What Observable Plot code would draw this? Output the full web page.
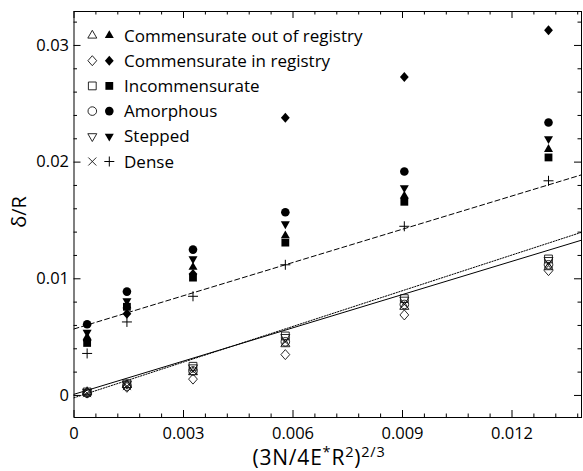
<!DOCTYPE html>
<html><head><meta charset="utf-8">
<script src="https://cdn.jsdelivr.net/npm/d3@7"></script>
<script src="https://cdn.jsdelivr.net/npm/@observablehq/plot@0.6"></script>
<style>
body{margin:0;background:#fff;}
#chart{width:583px;height:471px;}
svg{overflow:visible}
</style></head><body><div id="chart"></div>
<script>
// ---- data ----
const loads = [0.00036, 0.00145, 0.00326, 0.00579, 0.00905, 0.0130];
const seriesNames = ["Commensurate out of registry", "Commensurate in registry", "Incommensurate", "Amorphous", "Stepped", "Dense"];
// open markers
const openOutReg  = [0.0003, 0.0009, 0.0020, 0.0044, 0.0076, 0.0110];
const openInReg   = [0.0002, 0.0007, 0.0014, 0.0035, 0.0069, 0.0107];
const openIncomm  = [0.0003, 0.0010, 0.0025, 0.0051, 0.0083, 0.0117];
const openAmorph  = [0.0002, 0.0008, 0.0021, 0.0046, 0.0078, 0.0112];
const openStepped = [0.0003, 0.0010, 0.0024, 0.0050, 0.0082, 0.0116];
const openDense   = [0.0002, 0.0008, 0.0021, 0.0046, 0.0078, 0.0113];
// filled markers
const fillOutReg  = [0.0050, 0.0077, 0.0110, 0.0137, 0.0171, 0.0211];
const fillInReg   = [0.0047, 0.0070, 0.0104, 0.0238, 0.0273, 0.0313];
const fillIncomm  = [0.0045, 0.0076, 0.0101, 0.0131, 0.0166, 0.0204];
const fillAmorph  = [0.0061, 0.0089, 0.0125, 0.0157, 0.0192, 0.0234];
const fillStepped = [0.0054, 0.0081, 0.0117, 0.0147, 0.0178, 0.0220];
const fillDense   = [0.0036, 0.0063, 0.0085, 0.0112, 0.0145, 0.0184];
// fitted lines
const fitStyles = ["solid", "dotted", "dashed"];
const fitIntercepts = [0.0001, -0.0002, 0.0057];
const fitSlopes = [0.95, 1.02, 0.95];
// ticks
const xMajor = [0, 0.003, 0.006, 0.009, 0.012];
const xMajorLabels = ["0", "0.003", "0.006", "0.009", "0.012"];
const xMinor = [0.0006,0.0012,0.0018,0.0024,0.0036,0.0042,0.0048,0.0054,0.0066,0.0072,0.0078,0.0084,0.0096,0.0102,0.0108,0.0114,0.0126,0.0132,0.0138];
const yMajor = [0, 0.01, 0.02, 0.03];
const yMajorLabels = ["0", "0.01", "0.02", "0.03"];
const yMinor = [0.002,0.004,0.006,0.008,0.012,0.014,0.016,0.018,0.022,0.024,0.026,0.028,0.032];
const xDomain = [0, 0.013904];
const yDomain = [-0.00189, 0.03291];

// ---- marker glyphs ----
const triUp = {draw(c){c.moveTo(0,-5.2);c.lineTo(4.5,2.6);c.lineTo(-4.5,2.6);c.closePath();}};
const triDown = {draw(c){c.moveTo(0,5.2);c.lineTo(4.5,-2.6);c.lineTo(-4.5,-2.6);c.closePath();}};
const diamond = {draw(c){c.moveTo(0,-5);c.lineTo(4.4,0);c.lineTo(0,5);c.lineTo(-4.4,0);c.closePath();}};
const square = {draw(c){c.moveTo(-3.9,-3.9);c.lineTo(3.9,-3.9);c.lineTo(3.9,3.9);c.lineTo(-3.9,3.9);c.closePath();}};
const circle = {draw(c){c.moveTo(4.3,0);c.arc(0,0,4.3,0,2*Math.PI);c.closePath();}};
const times = {draw(c){c.moveTo(-4,-4);c.lineTo(4,4);c.moveTo(4,-4);c.lineTo(-4,4);}};
const plus = {draw(c){c.moveTo(-5,0);c.lineTo(5,0);c.moveTo(0,-5);c.lineTo(0,5);}};

const openSets = [openOutReg, openInReg, openIncomm, openAmorph, openStepped, openDense];
const fillSets = [fillOutReg, fillInReg, fillIncomm, fillAmorph, fillStepped, fillDense];
const openSyms = [triUp, diamond, square, circle, triDown, times];
const fillSyms = [triUp, diamond, square, circle, triDown, plus];
const fillIsStroke = [false, false, false, false, false, true];

const W = 583, H = 471, mL = 73.5, mR = 2, mT = 11, mB = 54;
const fw = W - mL - mR, fh = H - mT - mB;

const toPts = arr => arr.map((v, j) => ({x: loads[j], y: v}));

const marks = [];
fitStyles.forEach((s, i) => {
  const pts = xDomain.map(x => ({x, y: fitIntercepts[i] + fitSlopes[i] * x}));
  marks.push(Plot.line(pts, {x: "x", y: "y", stroke: "black", strokeWidth: 1,
    strokeDasharray: s === "dashed" ? "5,3" : s === "dotted" ? "1.3,1.5" : null}));
});
openSets.forEach((arr, i) => {
  marks.push(Plot.dot(toPts(arr), {x: "x", y: "y", symbol: openSyms[i], fill: "none", stroke: "#111", strokeWidth: 0.9}));
});
fillSets.forEach((arr, i) => {
  marks.push(Plot.dot(toPts(arr), {x: "x", y: "y", symbol: fillSyms[i],
    fill: fillIsStroke[i] ? "none" : "black", stroke: fillIsStroke[i] ? "black" : "none", strokeWidth: 1}));
});
marks.push(Plot.ruleX(xMajor, {x: d => d, insetTop: fh - 7, stroke: "black"}));
marks.push(Plot.ruleX(xMinor, {x: d => d, insetTop: fh - 3.5, stroke: "black"}));
marks.push(Plot.ruleX(xMajor, {x: d => d, insetBottom: fh - 7, stroke: "black"}));
marks.push(Plot.ruleX(xMinor, {x: d => d, insetBottom: fh - 3.5, stroke: "black"}));
marks.push(Plot.ruleY(yMajor, {y: d => d, insetRight: fw - 7, stroke: "black"}));
marks.push(Plot.ruleY(yMinor, {y: d => d, insetRight: fw - 3.5, stroke: "black"}));
marks.push(Plot.ruleY(yMajor, {y: d => d, insetLeft: fw - 7, stroke: "black"}));
marks.push(Plot.ruleY(yMinor, {y: d => d, insetLeft: fw - 3.5, stroke: "black"}));
marks.push(Plot.frame({stroke: "black", strokeWidth: 1}));
marks.push(Plot.axisX(xMajor, {tickSize: 0, tickPadding: 10, fontSize: 16.5, fill: "black",
  tickFormat: d => xMajorLabels[xMajor.indexOf(d)], label: null}));
marks.push(Plot.axisY(yMajor, {tickSize: 0, tickPadding: 5, fontSize: 16.5, fill: "black",
  tickFormat: d => yMajorLabels[yMajor.indexOf(d)], label: null}));

const chart = Plot.plot({
  width: W, height: H, marginLeft: mL, marginRight: mR, marginTop: mT, marginBottom: mB,
  x: {domain: xDomain}, y: {domain: yDomain},
  style: {fontFamily: "Open Sans", background: "white", color: "black"},
  marks
});
document.getElementById("chart").appendChild(chart);

const svg = d3.select(chart);
const lg = svg.append("g").attr("font-family", "Open Sans").attr("font-size", 17).attr("text-anchor", "start");
seriesNames.forEach((name, i) => {
  const y = 35.5 + i * 25.2;
  lg.append("path").attr("d", d3.symbol(openSyms[i])()).attr("transform", `translate(92.3,${y})`)
    .attr("fill", "none").attr("stroke", "#111").attr("stroke-width", 0.9);
  lg.append("path").attr("d", d3.symbol(fillSyms[i])()).attr("transform", `translate(109.3,${y})`)
    .attr("fill", fillIsStroke[i] ? "none" : "black").attr("stroke", fillIsStroke[i] ? "black" : "none");
  lg.append("text").attr("x", 124).attr("y", y).attr("dy", "0.36em").attr("fill", "black")
    .attr("text-anchor", "start").text(name);
});
svg.append("text").attr("transform", "translate(26,212) rotate(-90)").attr("text-anchor", "middle")
  .attr("font-family", "Open Sans").attr("font-size", 20).attr("fill", "black").text("δ/R");
const xt = svg.append("text").attr("x", 319).attr("y", 465).attr("text-anchor", "middle")
  .attr("font-family", "Open Sans").attr("font-size", 21).attr("letter-spacing", 0.8).attr("fill", "black");
xt.append("tspan").text("(3N/4E");
xt.append("tspan").attr("dy", -8).attr("font-size", 14.5).text("*");
xt.append("tspan").attr("dy", 8).text("R");
xt.append("tspan").attr("dy", -8).attr("font-size", 14.5).text("2");
xt.append("tspan").attr("dy", 8).text(")");
xt.append("tspan").attr("dy", -8).attr("font-size", 14.5).text("2/3");
</script></body></html>
